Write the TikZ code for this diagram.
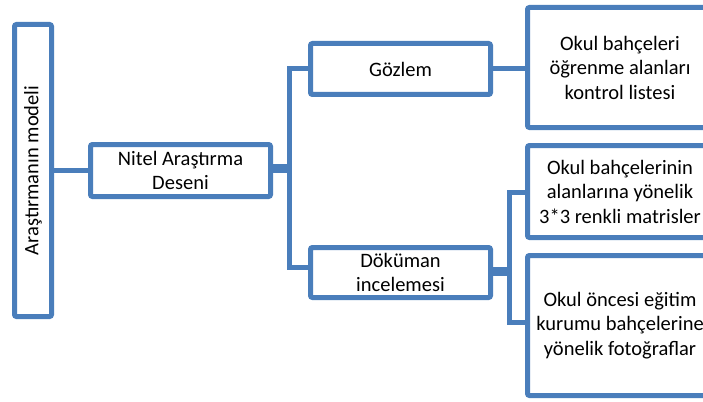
\documentclass[tikz,border=0pt]{standalone}
\usepackage{fontspec}
\setmainfont{Carlito}
\definecolor{kutumavi}{RGB}{74,126,187}
\tikzset{
  kutu/.style={draw=kutumavi, line width=5pt, fill=white, rounded corners=2pt,
    inner sep=0pt, align=center, font=\fontsize{20.5}{24.5}\selectfont},
  bag/.style={draw=kutumavi, line width=5pt},
  kalinbag/.style={draw=kutumavi, line width=9pt}
}
\begin{document}
\begin{tikzpicture}[x=1pt, y=-1pt]
  \useasboundingbox (0,0) rectangle (703,401);
  \clip (0,0) rectangle (703,401);
  % kutular
  \node[kutu, minimum width=292pt, minimum height=37pt, rotate=90] (model) at (33,170.5) {Araştırmanın modeli};
  \node[kutu, minimum width=180pt, minimum height=52pt] (nitel) at (180.5,170.5) {Nitel Araştırma\\Deseni};
  \node[kutu, minimum width=180pt, minimum height=51pt] (gozlem) at (400.5,69) {Gözlem};
  \node[kutu, minimum width=180pt, minimum height=50pt] (dokuman) at (400.5,272.5) {Döküman\\incelemesi};
  \node[kutu, minimum width=185pt, minimum height=120pt] (liste) at (620,67.5) {Okul bahçeleri\\öğrenme alanları\\kontrol listesi};
  \node[kutu, minimum width=185pt, minimum height=92pt] (matris) at (620,191.5) {Okul bahçelerinin\\alanlarına yönelik\\3*3 renkli matrisler};
  \node[kutu, minimum width=185pt, minimum height=140pt] (foto) at (620,325.5) {Okul öncesi eğitim\\kurumu bahçelerine\\yönelik fotoğraflar};
  % ayrım noktaları
  \coordinate (f1) at (289.5,168);
  \coordinate (f2) at (509.5,271);
  % bağlantılar
  \draw[bag] (model.south) -- (nitel.west);
  \draw[kalinbag] ([yshift=2.5pt]nitel.east) -- (f1);
  \draw[bag] (gozlem.west) -| (f1) |- ([yshift=5pt]dokuman.west);
  \draw[bag] (gozlem.east) -- (gozlem.east -| liste.west);
  \draw[kalinbag] ([yshift=1.5pt]dokuman.east) -- (f2);
  \draw[bag] ([yshift=-1pt]matris.west) -| (f2) |- ([yshift=3pt]foto.west);
\end{tikzpicture}
\end{document}
